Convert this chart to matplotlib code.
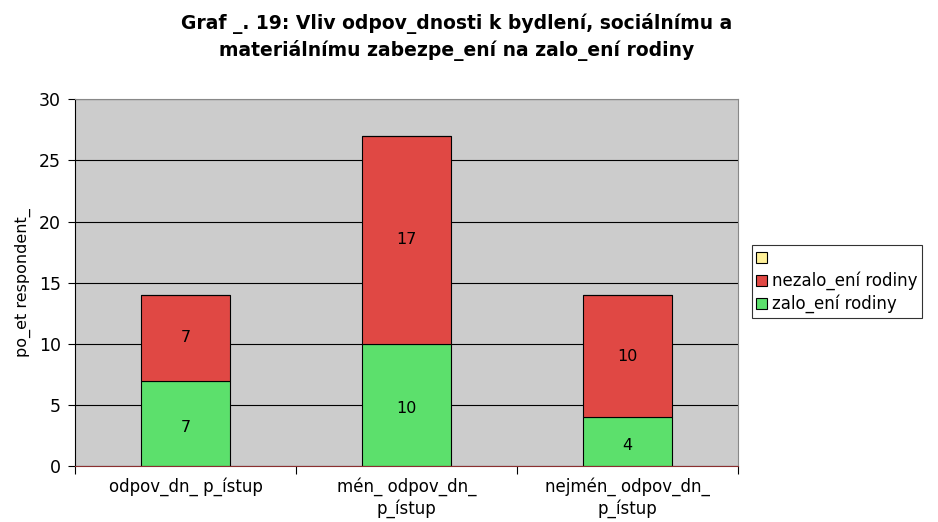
import matplotlib.pyplot as plt
import numpy as np

categories = ['odpov_dn_ p_ístup', 'mén_ odpov_dn_\np_ístup', 'nejmén_ odpov_dn_\np_ístup']
zalozeni = [7, 10, 4]
nezalozeni = [7, 17, 10]
prazdna = [0, 0, 0]

fig = plt.figure(figsize=(9.38, 5.22), dpi=100)
ax = fig.add_axes([0.080, 0.107, 0.707, 0.703])
ax.set_facecolor('#CCCCCC')

x = np.arange(len(categories))
w = 0.4
b1 = ax.bar(x, zalozeni, w, color='#5CE06C', edgecolor='black', linewidth=0.8, label='zalo_ení rodiny')
b2 = ax.bar(x, nezalozeni, w, bottom=zalozeni, color='#E04844', edgecolor='black', linewidth=0.8,
            label='nezalo_ení rodiny')
b3 = ax.bar(x, prazdna, w, bottom=np.array(zalozeni) + np.array(nezalozeni), color='#FFF199',
            edgecolor='black', linewidth=0.8, label=' ')

for rect, v in zip(b1, zalozeni):
    ax.text(rect.get_x() + rect.get_width() / 2, rect.get_y() + v / 2 - 0.3, str(v),
            ha='center', va='center', fontsize=11.5)
for rect, v, b in zip(b2, nezalozeni, zalozeni):
    ax.text(rect.get_x() + rect.get_width() / 2, b + v / 2, str(v),
            ha='center', va='center', fontsize=11.5)

ax.set_xlim(-0.5, 2.5)
ax.set_ylim(0, 30)
ax.set_yticks(range(0, 31, 5))
ax.yaxis.grid(True, color='black', linewidth=0.8)
ax.set_axisbelow(True)
ax.set_xticks([-0.5, 0.5, 1.5, 2.5])
ax.set_xticklabels([])
ax.set_xticks(x, minor=True)
ax.set_xticklabels(categories, minor=True, fontsize=12, linespacing=1.25)
ax.tick_params(axis='x', which='minor', length=0, pad=8)
ax.tick_params(axis='x', which='major', length=6, color='black')
ax.tick_params(axis='y', length=5, labelsize=12.5, pad=5)
ax.set_ylabel('po_et respondent_', fontsize=11.5, labelpad=6)

for s in ['top', 'right']:
    ax.spines[s].set_color('#888888')
ax.spines['bottom'].set_color('#8B3030')

fig.suptitle('Graf _. 19: Vliv odpov_dnosti k bydlení, sociálnímu a\nmateriálnímu zabezpe_ení na zalo_ení rodiny',
             fontsize=13.5, fontweight='bold', x=0.487, y=0.975, linespacing=1.35)

handles = [b3, b2, b1]
leg = fig.legend(handles, [h.get_label() for h in handles], loc='upper left',
                 bbox_to_anchor=(0.802, 0.53), fontsize=12, frameon=True, fancybox=False,
                 edgecolor='black', handlelength=0.65, handleheight=0.65, handletextpad=0.3,
                 labelspacing=0.25, borderpad=0.25, borderaxespad=0)
leg.get_frame().set_linewidth(0.8)

fig.savefig('out.png', dpi=100)
